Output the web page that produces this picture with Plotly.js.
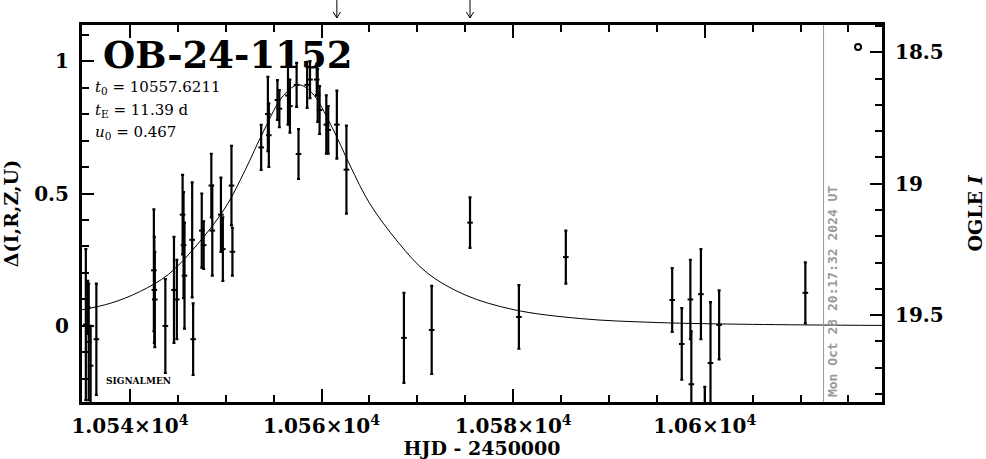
<!DOCTYPE html>
<html><head><meta charset="utf-8">
<script src="https://cdn.plot.ly/plotly-3.0.1.min.js"></script>
<style>html,body{margin:0;padding:0;background:#fff}#chart{width:986px;height:459px}</style>
</head><body><div id="chart"></div>
<script>
// ---- data ----
const eventName = "OB-24-1152";
const fitParams = ["<i>t</i><sub>0</sub> = 10557.6211", "<i>t</i><sub>E</sub> = 11.39 d", "<i>u</i><sub>0</sub> = 0.467"];
const surveyLabel = "SIGNALMEN";

const obsTime = [
  10535.4, 10535.6, 10535.7, 10535.9, 10536.5,
  10542.5, 10542.55, 10542.6, 10543.7, 10544.6, 10544.9,
  10545.5, 10545.6, 10545.7, 10546.5, 10546.6, 10547.5, 10547.7,
  10548.5, 10548.6, 10549.5, 10549.7, 10550.6, 10550.7,
  10553.7, 10554.4, 10554.5, 10555.4, 10555.6, 10556.5, 10556.7,
  10557.4, 10557.6, 10558.5, 10558.8, 10559.5, 10559.6, 10559.8,
  10560.5, 10560.7, 10561.6, 10562.6,
  10568.6, 10571.5, 10575.5, 10580.6, 10585.5, 10596.6, 10597.6,
  10598.5, 10598.6, 10599.6, 10600.0, 10600.6, 10601.5, 10610.5
];
const obsDelta = [
  0.005, 0.07, -0.06, -0.15, -0.05,
  0.21, 0.136, 0.10, 0.0, 0.136, 0.10,
  0.42, 0.305, 0.19, 0.325, -0.05, 0.36, 0.305,
  0.53, 0.36, 0.42, 0.29, 0.53, 0.28,
  0.674, 0.80, 0.72, 0.853, 0.82, 0.87, 0.83,
  0.91, 0.649, 0.91, 0.93, 0.93, 0.87, 0.815,
  0.76, 0.74, 0.76, 0.59,
  -0.045, -0.015, 0.39, 0.034, 0.26, 0.098, -0.068,
  0.10, -0.22, 0.12, -0.38, -0.14, 0.004, 0.125
];
const obsErr = [
  0.285, 0.10, 0.22, 0.15, 0.21,
  0.23, 0.20, 0.18, 0.177, 0.20, 0.15,
  0.15, 0.20, 0.20, 0.217, 0.135, 0.14, 0.09,
  0.12, 0.17, 0.14, 0.12, 0.15, 0.09,
  0.085, 0.14, 0.12, 0.075, 0.07, 0.11, 0.10,
  0.083, 0.094, 0.087, 0.07, 0.06, 0.10, 0.09,
  0.11, 0.09, 0.128, 0.166,
  0.17, 0.166, 0.095, 0.12, 0.10, 0.12, 0.135,
  0.15, 0.20, 0.17, 0.15, 0.23, 0.13, 0.115
];

// fitted model curve
const modelTime = [10535, 10538, 10541, 10544, 10547, 10550, 10552, 10554, 10556, 10557.6,
  10559, 10561, 10563, 10565, 10568, 10571, 10575, 10580, 10587, 10595, 10605, 10618.5];
const modelDelta = [0.061, 0.086, 0.129, 0.194, 0.306, 0.449, 0.586, 0.739, 0.869, 0.910,
  0.880, 0.757, 0.604, 0.464, 0.316, 0.201, 0.117, 0.062, 0.028, 0.013, 0.006, 0.002];

const xTickVals = [10540, 10560, 10580, 10600];
const xTickText = ["1.054×10<sup>4</sup>", "1.056×10<sup>4</sup>", "1.058×10<sup>4</sup>", "1.06×10<sup>4</sup>"];
const arrowTimes = [10561.6, 10575.5];
const nowTime = 10612.4;
const nowLabel = "Mon Oct 28 20:17:32 2024 UT";
const ogleMark = {t: 10616.0, mag: 18.48};

// ---- chart ----
const serif = "DejaVu Serif, serif";
const traces = [
  {x: modelTime, y: modelDelta, type: "scatter", mode: "lines",
   line: {color: "#000", width: 1, shape: "spline"}, hoverinfo: "skip"},
  {x: obsTime, y: obsDelta, type: "scatter", mode: "markers",
   marker: {symbol: "line-ew", size: 4, color: "#000", line: {color: "#000", width: 2}},
   error_y: {type: "data", array: obsErr, visible: true, color: "#000", thickness: 2.2, width: 1.5}},
  {x: [null], y: [null], yaxis: "y2", type: "scatter", mode: "markers", hoverinfo: "skip"}
];

const annotations = [
  {xref: "paper", yref: "paper", x: 0.0238, y: 0.92, xanchor: "left", yanchor: "middle",
   text: eventName, showarrow: false, font: {family: serif, size: 37, color: "#000", weight: "bold"}},
  {xref: "paper", yref: "paper", x: 0.0275, y: 0.057, xanchor: "left", yanchor: "middle",
   text: surveyLabel, showarrow: false, font: {family: serif, size: 9, color: "#000", weight: "bold"}},
  {xref: "x", yref: "paper", x: nowTime, xshift: 9, y: 0.293, xanchor: "center", yanchor: "middle",
   text: "<b>" + nowLabel + "</b>", textangle: -90, showarrow: false,
   font: {family: "DejaVu Sans Mono, monospace", size: 13, color: "#999"}}
];
const paramY = [0.833, 0.772, 0.714];
fitParams.forEach((p, i) => annotations.push({xref: "paper", yref: "paper", x: 0.0138, y: paramY[i],
  xanchor: "left", yanchor: "middle", text: p, showarrow: false,
  font: {family: serif, size: 15, color: "#000", weight: "normal"}}));

const shapes = [
  {type: "line", xref: "x", yref: "paper", x0: nowTime, x1: nowTime, y0: 0, y1: 1,
   line: {color: "#999", width: 1}},
  {type: "circle", xref: "x", yref: "y2", xsizemode: "pixel", ysizemode: "pixel",
   xanchor: ogleMark.t, yanchor: ogleMark.mag, x0: -3, x1: 3, y0: -3, y1: 3,
   line: {color: "#000", width: 2}}
];
// epoch arrows above the frame (stem + open head)
arrowTimes.forEach(t => {
  shapes.push({type: "line", xref: "x", yref: "paper", x0: t, x1: t, y0: 1.0186, y1: 1.066,
    line: {color: "#000", width: 1}});
  shapes.push({type: "path", xref: "x", yref: "paper",
    path: `M ${t - 0.38},1.0345 L ${t},1.0186 L ${t + 0.38},1.0345`,
    line: {color: "#000", width: 1}});
});

const layout = {
  width: 986, height: 459,
  margin: {l: 82, r: 104, t: 25, b: 57},
  paper_bgcolor: "#fff", plot_bgcolor: "#fff",
  showlegend: false,
  font: {family: serif, size: 20, color: "#000"},
  xaxis: {range: [10535.0, 10618.5], tickmode: "array", tickvals: xTickVals, ticktext: xTickText,
    ticks: "inside", ticklen: 13, tickwidth: 2, tickcolor: "#000",
    minor: {tickmode: "linear", tick0: 10535, dtick: 5, ticks: "inside", ticklen: 7, tickwidth: 2, tickcolor: "#000"},
    showline: true, linewidth: 3, linecolor: "#000", mirror: "ticks", showgrid: false, zeroline: false,
    tickfont: {family: serif, size: 20, weight: "bold"}, ticklabelstandoff: 4,
    title: {text: "HJD - 2450000", font: {family: serif, size: 19, weight: "bold"}, standoff: 6}},
  yaxis: {range: [-0.287, 1.136], tick0: 0, dtick: 0.5,
    ticks: "inside", ticklen: 12, tickwidth: 2, tickcolor: "#000",
    minor: {tick0: 0, dtick: 0.1, ticks: "inside", ticklen: 7, tickwidth: 2, tickcolor: "#000"},
    showline: true, linewidth: 3, linecolor: "#000", mirror: false, showgrid: false, zeroline: false,
    tickfont: {family: serif, size: 20, weight: "bold"}, ticklabelstandoff: 6,
    title: {text: "Δ(I,R,Z,U)", font: {family: serif, size: 19, weight: "bold"}, standoff: 14}},
  yaxis2: {overlaying: "y", side: "right", range: [19.831, 18.396], tick0: 18.5, dtick: 0.5,
    ticks: "inside", ticklen: 12, tickwidth: 2, tickcolor: "#000",
    minor: {tick0: 18.5, dtick: 0.1, ticks: "inside", ticklen: 7, tickwidth: 2, tickcolor: "#000"},
    showline: true, linewidth: 3, linecolor: "#000", showgrid: false, zeroline: false,
    tickfont: {family: serif, size: 20, weight: "bold"}, ticklabelstandoff: 6,
    title: {text: "OGLE <i>I</i>", font: {family: serif, size: 19, weight: "bold"}, standoff: 28}},
  shapes: shapes,
  annotations: annotations
};

Plotly.newPlot("chart", traces, layout, {staticPlot: true, displayModeBar: false});
</script></body></html>
